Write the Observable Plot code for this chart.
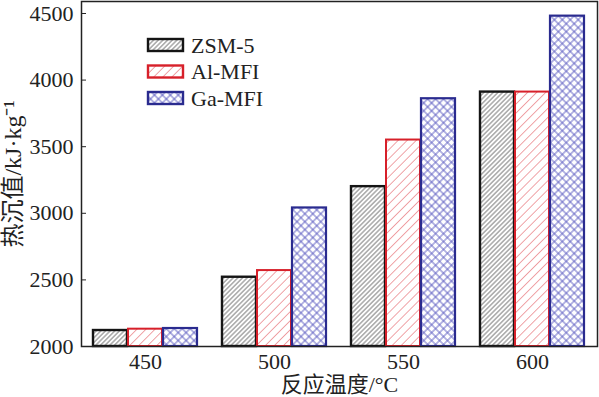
<!DOCTYPE html>
<html><head><meta charset="utf-8">
<script src="https://cdn.jsdelivr.net/npm/d3@7"></script>
<script src="https://cdn.jsdelivr.net/npm/@observablehq/plot@0.6"></script>
<style>body{margin:0;background:#fff}</style>
</head><body><div id="chart"></div>
<script>
const temps = ["450", "500", "550", "600"];
const series = ["ZSM-5", "Al-MFI", "Ga-MFI"];
const zsm5 = [2120, 2520, 3200, 3910];
const alMFI = [2130, 2570, 3550, 3910];
const gaMFI = [2135, 3040, 3860, 4480];
const yTicks = [2000, 2500, 3000, 3500, 4000, 4500];
const xTitle = "反应温度/°C";
const yTitle = "热沉值/kJ·kg⁻¹";

const rows = vals => temps.map((t, i) => ({t, v: vals[i]}));
const font = "Liberation Serif, Noto Sans CJK SC, serif";
const strokes = ["#151515", "#d7202a", "#2a2b8f"];
const fills = ["url(#hZ)", "url(#hA)", "url(#hG)"];

const plot = Plot.plot({
  width: 599, height: 397,
  marginLeft: 81, marginRight: 2, marginTop: 1, marginBottom: 51,
  style: {fontFamily: font, fontSize: "22px", color: "#222", background: "#fff"},
  x: {domain: temps, paddingInner: 0.19, paddingOuter: 0.085, axis: null},
  y: {domain: [2000, 4590], axis: null},
  marks: [
    Plot.barY(rows(zsm5), {x: "t", y1: 2000, y2: "v", fill: fills[0], stroke: strokes[0], strokeWidth: 2.4, insetRight: 70}),
    Plot.barY(rows(alMFI), {x: "t", y1: 2000, y2: "v", fill: fills[1], stroke: strokes[1], strokeWidth: 2, insetLeft: 35, insetRight: 35}),
    Plot.barY(rows(gaMFI), {x: "t", y1: 2000, y2: "v", fill: fills[2], stroke: strokes[2], strokeWidth: 2.2, insetLeft: 70}),
    Plot.frame({stroke: "#222", strokeWidth: 1.5}),
    Plot.axisY({ticks: yTicks, tickFormat: d3.format("d"), tickSize: -5, tickPadding: 13, label: null, fontSize: 22, fontFamily: font}),
    Plot.axisX({tickSize: 0, tickPadding: 7, label: null, fontSize: 22, fontFamily: font}),
    Plot.text([xTitle], {frameAnchor: "bottom", dy: 45, fontSize: 22, fontFamily: font}),
    Plot.text([yTitle], {frameAnchor: "left", textAnchor: "middle", rotate: -90, dx: -68, fontSize: 24, fontFamily: font})
  ]
});

const svg = d3.select(plot);
const defs = svg.insert("defs", ":first-child");
function hatch(id, size, color, width, cross) {
  const p = defs.append("pattern").attr("id", id).attr("patternUnits", "userSpaceOnUse")
    .attr("width", size).attr("height", size).attr("patternTransform", "rotate(45)");
  p.append("rect").attr("width", size).attr("height", size).attr("fill", "#fff");
  p.append("line").attr("x1", size / 2).attr("x2", size / 2).attr("y1", 0).attr("y2", size)
    .attr("stroke", color).attr("stroke-width", width);
  if (cross) p.append("line").attr("y1", size / 2).attr("y2", size / 2).attr("x1", 0).attr("x2", size)
    .attr("stroke", color).attr("stroke-width", width);
}
hatch("hZ", 3.3, "#5a5a5a", 0.8, false);
hatch("hA", 6.4, "#ee9a9e", 0.9, false);
hatch("hG", 5.6, "#5a5ac0", 0.9, true);

// legend
const lg = svg.append("g").attr("font-family", font).attr("font-size", 22).attr("fill", "#222").attr("text-anchor", "start");
series.forEach((s, i) => {
  const y = 39 + i * 26.5;
  lg.append("rect").attr("x", 148).attr("y", y).attr("width", 35).attr("height", 12)
    .attr("fill", fills[i]).attr("stroke", strokes[i]).attr("stroke-width", 2.4);
  lg.append("text").attr("x", 191).attr("y", y + 6).attr("dy", "0.36em").text(s);
});

document.getElementById("chart").appendChild(plot);
</script></body></html>
